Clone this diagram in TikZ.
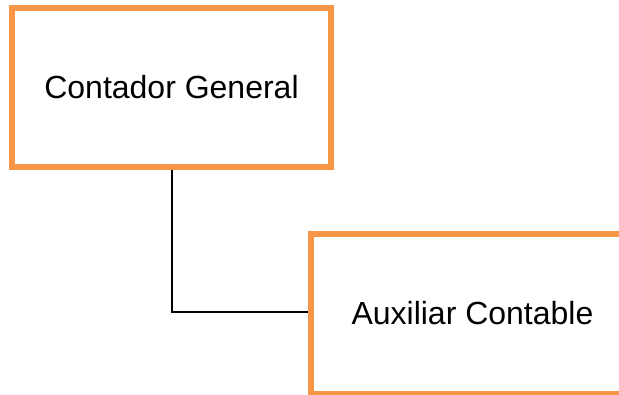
\documentclass[tikz,border=0pt]{standalone}
\usepackage{fontspec}
\setmainfont{Liberation Sans}
\definecolor{boxorange}{HTML}{F79646}
\begin{document}
\begin{tikzpicture}[x=1pt,y=-1pt,
  rolebox/.style={draw=boxorange, line width=6pt, fill=white, rectangle,
    inner sep=0pt, font=\fontsize{32}{38}\selectfont},
  link/.style={draw=black, line width=2pt}]
  \useasboundingbox (0,0) rectangle (619,395);
  % organisational chart: head role and its subordinate
  \node[rolebox, minimum width=319pt, minimum height=159pt] (cg) at (171.5,87.5) {Contador General};
  \node[rolebox, minimum width=323pt, minimum height=160pt] (ac) at (472.5,314) {\raisebox{2pt}{Auxiliar Contable}};
  \draw[link] (cg.south) |- ([yshift=2pt]ac.west);
\end{tikzpicture}
\end{document}
